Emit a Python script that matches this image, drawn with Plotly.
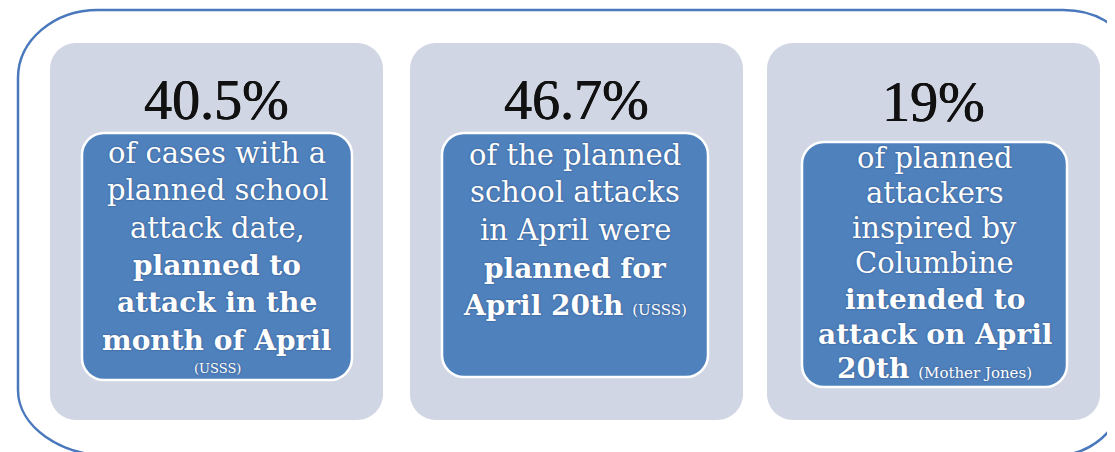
import plotly.graph_objects as go

# ---- data ----
percentages = ["40.5%", "46.7%", "19%"]
body_lines = [
    ["of cases with a", "planned school", "attack date,", "planned to", "attack in the", "month of April"],
    ["of the planned", "school attacks", "in April were", "planned for", "April 20th"],
    ["of planned", "attackers", "inspired by", "Columbine", "intended to", "attack on April", "20th"],
]
bold_from = [3, 3, 4]          # index of first bold line in each panel
sources = ["(USSS)", "(USSS)", "(Mother Jones)"]
source_inline = [False, True, True]

# ---- layout geometry (page pixels) ----
W, H = 1115, 452
OFF = 8  # browser default body margin
panel_x = [(50, 383), (410, 743), (767, 1100)]
panel_y = (43, 420)
box_x = [(82, 352), (442, 708), (802, 1067)]
box_y = [(133, 380), (133, 377), (142, 387)]
pct_y = [100, 100, 102]
line_y = [
    [153, 190, 228, 265, 302, 340],
    [155, 192, 230, 268, 305],
    [158, 193, 228, 263, 299, 334, 368],
]
src_y_below = 368

PANEL = "#d0d6e4"
BLUE = "#4f81bd"
FRAME = "#4a78bc"
SERIF = "Liberation Serif, Times New Roman, serif"
BODY = "DejaVu Serif, serif"
SHADOW = "0px 0px 2px rgba(20,40,80,0.55)"
PCT_SHADOW = "0.45px 0px 0px #111111, -0.25px 0px 0px #111111"

K = 0.5523


def rrect(x0, y0, x1, y1, tl, tr, br, bl):
    """Rounded rectangle path; each corner given as (rx, ry)."""
    def arc(ax, ay, bx, by, cx, cy):
        c1x = ax + (cx - ax) * K
        c1y = ay + (cy - ay) * K
        c2x = bx + (cx - bx) * K
        c2y = by + (cy - by) * K
        return f" C {c1x},{c1y} {c2x},{c2y} {bx},{by}"
    p = f"M {x0 + tl[0]},{y0} L {x1 - tr[0]},{y0}"
    p += arc(x1 - tr[0], y0, x1, y0 + tr[1], x1, y0)
    p += f" L {x1},{y1 - br[1]}"
    p += arc(x1, y1 - br[1], x1 - br[0], y1, x1, y1)
    p += f" L {x0 + bl[0]},{y1}"
    p += arc(x0 + bl[0], y1, x0, y1 - bl[1], x0, y1)
    p += f" L {x0},{y0 + tl[1]}"
    p += arc(x0, y0 + tl[1], x0 + tl[0], y0, x0, y0)
    return p + " Z"


shapes = []
annotations = []

# outer frame (slightly irregular corners, as in the photographed slide)
shapes.append(dict(type="path",
                   path=rrect(18, 10, 1122, 456, (80, 68), (59, 36), (70, 60), (94, 66)),
                   line=dict(color=FRAME, width=2.5), fillcolor="rgba(0,0,0,0)", layer="below"))

for i in range(3):
    px0, px1 = panel_x[i]
    r = (26, 26)
    shapes.append(dict(type="path", path=rrect(px0, panel_y[0], px1, panel_y[1], r, r, r, r),
                       line=dict(width=0), fillcolor=PANEL, layer="below"))
    bx0, bx1 = box_x[i]
    by0, by1 = box_y[i]
    rb = (22, 22)
    shapes.append(dict(type="path", path=rrect(bx0, by0, bx1, by1, rb, rb, rb, rb),
                       line=dict(color="white", width=2.5), fillcolor=BLUE, layer="below"))
    cx = (px0 + px1) / 2
    annotations.append(dict(x=cx, y=pct_y[i], text=percentages[i], showarrow=False,
                            xanchor="center", yanchor="middle",
                            font=dict(family=SERIF, size=56, color="#111111", shadow=PCT_SHADOW)))
    bcx = (bx0 + bx1) / 2
    n = len(body_lines[i])
    for j, (txt, y) in enumerate(zip(body_lines[i], line_y[i])):
        bold = j >= bold_from[i]
        t = f"<b>{txt}</b>" if bold else txt
        if j == n - 1 and source_inline[i]:
            t += f" <span style='font-size:15px;font-weight:normal'>{sources[i]}</span>"
        annotations.append(dict(x=bcx, y=y, text=t, showarrow=False,
                                xanchor="center", yanchor="middle",
                                font=dict(family=BODY, size=28 if bold else 29,
                                          color="white", shadow=SHADOW)))
    if not source_inline[i]:
        annotations.append(dict(x=bcx, y=src_y_below, text=sources[i], showarrow=False,
                                xanchor="center", yanchor="middle",
                                font=dict(family=BODY, size=13, color="white", shadow=SHADOW)))

fig = go.Figure()
fig.add_trace(go.Scatter(x=[], y=[], showlegend=False))
fig.update_layout(
    width=W - OFF, height=H - OFF,
    margin=dict(l=0, r=0, t=0, b=0),
    paper_bgcolor="white", plot_bgcolor="white",
    xaxis=dict(range=[OFF, W], visible=False, fixedrange=True),
    yaxis=dict(range=[H, OFF], visible=False, fixedrange=True),
    shapes=shapes, annotations=annotations, showlegend=False,
)
fig.write_html("out.html")
